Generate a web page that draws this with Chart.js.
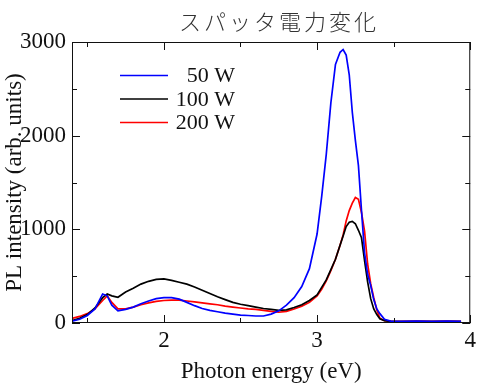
<!DOCTYPE html>
<html>
<head>
<meta charset="utf-8">
<script src="https://cdn.jsdelivr.net/npm/chart.js@4.4.1/dist/chart.umd.min.js"></script>
<style>
  html, body { margin: 0; padding: 0; background: #fff; }
  #wrap { width: 480px; height: 391px; }
</style>
</head>
<body>
<div id="wrap"><canvas id="myChart" width="480" height="391"></canvas></div>
<script>
'use strict';

// photon energy (eV), shared by all three spectra
let energy = [1.40, 1.45, 1.50, 1.55, 1.60, 1.63, 1.66, 1.70, 1.75, 1.80, 1.85, 1.90, 1.95, 2.00,
  2.05, 2.10, 2.15, 2.20, 2.25, 2.30, 2.35, 2.40, 2.45, 2.50, 2.55, 2.60, 2.65, 2.70, 2.75, 2.80,
  2.85, 2.90, 2.95, 3.00, 3.03, 3.06, 3.09, 3.12, 3.15, 3.17, 3.19, 3.21, 3.23, 3.25, 3.27, 3.29,
  3.31, 3.33, 3.35, 3.37, 3.39, 3.41, 3.44, 3.48, 3.55, 3.65, 3.75, 3.85, 3.94];

// PL intensity (arb. units)
let w50 = [20, 40, 80, 150, 310, 290, 190, 130, 145, 170, 205, 235, 260, 270,
  270, 255, 220, 185, 155, 135, 120, 105, 95, 85, 80, 75, 75, 95, 130, 190,
  270, 390, 580, 950, 1350, 1800, 2350, 2760, 2890, 2920, 2860, 2650, 2250, 1950, 1680, 1200,
  750, 520, 400, 250, 150, 100, 40, 20, 18, 20, 18, 20, 18];
let w100 = [25, 50, 90, 160, 270, 310, 290, 275, 330, 370, 415, 445, 465, 470,
  455, 435, 415, 385, 350, 315, 280, 250, 220, 200, 185, 170, 155, 145, 135, 140,
  165, 195, 240, 300, 380, 460, 570, 680, 830, 930, 1030, 1075, 1085, 1060, 990, 910,
  665, 440, 260, 150, 90, 45, 25, 18, 15, 15, 15, 15, 15];
let w200 = [50, 70, 100, 150, 240, 290, 220, 150, 150, 170, 195, 215, 230, 240,
  245, 245, 235, 225, 215, 205, 195, 180, 170, 160, 150, 145, 135, 125, 115, 125,
  150, 180, 220, 290, 360, 450, 560, 680, 830, 940, 1090, 1200, 1280, 1340, 1320, 1180,
  980, 630, 420, 270, 140, 50, 25, 20, 18, 20, 18, 20, 18];

let seriesNames = ['50 W', '100 W', '200 W'];
let seriesColors = ['#0000ff', '#000000', '#ff0000'];

let xTicks = [2, 3, 4];
let xMinorTicks = [1.5, 2.5, 3.5];
let yTicks = [0, 1000, 2000, 3000];
let yMinorTicks = [500, 1500, 2500];

let chartTitle = 'スパッタ電力変化';
let serif = '"Liberation Serif", "Times New Roman", serif';

function toPoints(values) {
  return energy.map((e, i) => ({ x: e, y: values[i] }));
}

let allSeries = [w50, w100, w200];
let datasets = [];
for (let i = 0; i < allSeries.length; i++) {
  datasets.push({
    label: seriesNames[i],
    data: toPoints(allSeries[i]),
    borderColor: seriesColors[i],
    borderWidth: 1.7,
    pointRadius: 0,
    tension: 0
  });
}

// frame, inward ticks on all four sides, title and legend
const decorations = {
  id: 'decorations',
  afterDatasetsDraw(chart) {
    const ctx = chart.ctx;
    const area = chart.chartArea;
    const xs = chart.scales.x;
    const ys = chart.scales.y;
    ctx.save();
    ctx.strokeStyle = '#111';
    ctx.lineWidth = 1;
    ctx.strokeRect(area.left + 0.5, area.top + 0.5, area.right - area.left - 1, area.bottom - area.top - 1);

    function xTick(v, len) {
      const px = Math.round(xs.getPixelForValue(v)) + 0.5;
      ctx.beginPath();
      ctx.moveTo(px, area.bottom); ctx.lineTo(px, area.bottom - len);
      ctx.moveTo(px, area.top); ctx.lineTo(px, area.top + len);
      ctx.stroke();
    }
    function yTick(v, len) {
      const py = Math.round(ys.getPixelForValue(v)) + 0.5;
      ctx.beginPath();
      ctx.moveTo(area.left, py); ctx.lineTo(area.left + len, py);
      ctx.moveTo(area.right, py); ctx.lineTo(area.right - len, py);
      ctx.stroke();
    }
    xTicks.forEach(v => xTick(v, 8));
    xMinorTicks.forEach(v => xTick(v, 5));
    yTicks.forEach(v => yTick(v, 8));
    yMinorTicks.forEach(v => yTick(v, 5));

    ctx.fillStyle = '#333';
    ctx.font = '300 22px "Noto Sans CJK JP"';
    ctx.letterSpacing = '3px';
    ctx.textAlign = 'center';
    ctx.textBaseline = 'middle';
    ctx.fillText(chartTitle, 279, 22);
    ctx.letterSpacing = '0px';

    ctx.font = '22px ' + serif;
    ctx.textAlign = 'right';
    for (let i = 0; i < seriesNames.length; i++) {
      const y = 75.5 + i * 23.5;
      ctx.strokeStyle = seriesColors[i];
      ctx.lineWidth = 1.5;
      ctx.beginPath();
      ctx.moveTo(120, y); ctx.lineTo(168, y);
      ctx.stroke();
      ctx.fillStyle = '#111';
      ctx.fillText(seriesNames[i], 235, y + 1);
    }
    ctx.restore();
  }
};

const ctx = document.getElementById('myChart');
const myChart = new Chart(ctx, {
  type: 'line',
  data: { datasets: datasets },
  options: {
    responsive: false,
    animation: false,
    layout: { padding: { top: 42, right: 9, left: 0, bottom: 0 } },
    plugins: {
      legend: { display: false },
      title: { display: false },
      tooltip: { enabled: false }
    },
    scales: {
      x: {
        type: 'linear',
        min: 1.4,
        max: 4,
        grid: { display: false, drawTicks: false },
        border: { display: false },
        afterBuildTicks: (scale) => { scale.ticks = xTicks.map(v => ({ value: v })); },
        afterFit: (scale) => { scale.height = 68; },
        ticks: {
          color: '#111',
          padding: 4,
          font: { family: serif, size: 23 },
          callback: (v) => String(v)
        },
        title: {
          display: true,
          text: 'Photon energy (eV)',
          color: '#111',
          padding: { top: 0, bottom: 5 },
          font: { family: serif, size: 23 }
        }
      },
      y: {
        min: 0,
        max: 3000,
        grid: { display: false, drawTicks: false },
        border: { display: false },
        afterBuildTicks: (scale) => { scale.ticks = yTicks.map(v => ({ value: v })); },
        afterFit: (scale) => { scale.width = 72; },
        ticks: {
          color: '#111',
          padding: 6,
          font: { family: serif, size: 23 },
          callback: (v) => String(v)
        },
        title: {
          display: true,
          text: 'PL intensity (arb. units)',
          color: '#111',
          padding: { top: 1, bottom: 0 },
          font: { family: serif, size: 23 }
        }
      }
    }
  },
  plugins: [decorations]
});
</script>
</body>
</html>
